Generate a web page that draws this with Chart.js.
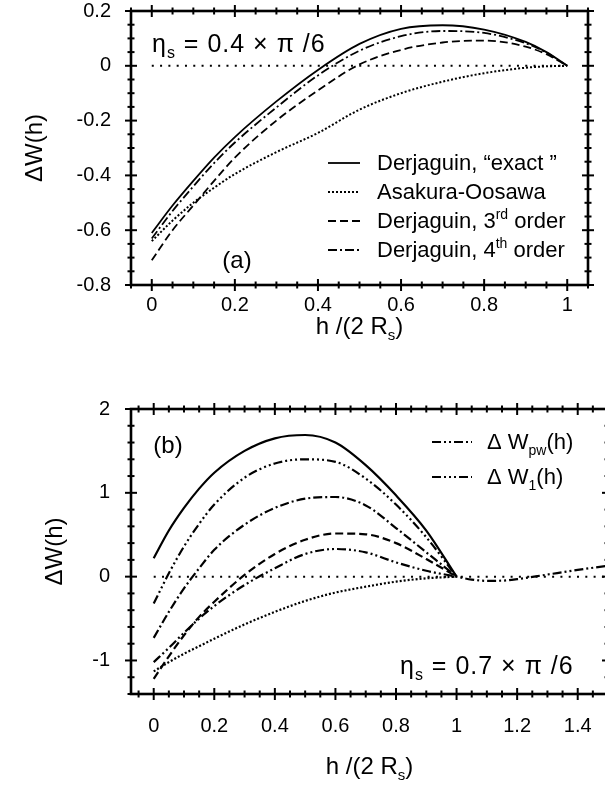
<!DOCTYPE html>
<html>
<head>
<meta charset="utf-8">
<script src="https://cdn.jsdelivr.net/npm/chart.js@4.4.1/dist/chart.umd.min.js"></script>
<style>
  html, body { margin: 0; padding: 0; background: #fff; overflow: hidden; width: 605px; height: 789px; }
  canvas { position: absolute; left: 0; }
  #chartA { top: 0; }
  #chartB { top: 345px; }
</style>
</head>
<body>
<canvas id="chartA" width="605" height="345"></canvas>
<canvas id="chartB" width="640" height="444"></canvas>
<script>
const FONT = '"Liberation Sans", Arial, Helvetica, sans-serif';

// panel (a), eta_s = 0.4 x pi/6
const hA      = [0, 0.05, 0.1, 0.15, 0.2, 0.3, 0.4, 0.5, 0.6, 0.7, 0.8, 0.9, 0.95, 1];
const exactA  = [-0.61, -0.51, -0.42, -0.335, -0.26, -0.13, -0.015, 0.08, 0.135, 0.148, 0.132, 0.087, 0.05, 0];
const aoA     = [-0.64, -0.565, -0.5, -0.445, -0.395, -0.315, -0.245, -0.16, -0.1, -0.058, -0.027, -0.007, -0.002, 0];
const thirdA  = [-0.71, -0.6, -0.51, -0.42, -0.335, -0.2, -0.09, 0.005, 0.058, 0.085, 0.092, 0.07, 0.042, 0];
const fourthA = [-0.63, -0.53, -0.44, -0.355, -0.28, -0.152, -0.035, 0.055, 0.108, 0.127, 0.12, 0.082, 0.048, 0];
const zeroHA  = [0, 1];
const zeroA   = [0, 0];
const xTicksA = [0, 0.2, 0.4, 0.6, 0.8, 1];
const yTicksA = [-0.8, -0.6, -0.4, -0.2, 0, 0.2];

// panel (b), eta_s = 0.7 x pi/6
const hB      = [0, 0.05, 0.1, 0.15, 0.2, 0.3, 0.4, 0.5, 0.6, 0.7, 0.8, 0.9, 1];
const exactB  = [0.22, 0.55, 0.82, 1.05, 1.24, 1.5, 1.65, 1.69, 1.6, 1.33, 0.97, 0.55, 0];
const w1B     = [-0.32, 0.04, 0.36, 0.63, 0.86, 1.18, 1.35, 1.4, 1.37, 1.17, 0.86, 0.47, 0];
const fourthB = [-0.73, -0.42, -0.14, 0.1, 0.32, 0.62, 0.82, 0.93, 0.95, 0.85, 0.58, 0.29, 0];
const thirdB  = [-1.22, -0.95, -0.7, -0.48, -0.3, 0.02, 0.27, 0.44, 0.515, 0.505, 0.4, 0.21, 0];
const aoB     = [-1.13, -1.02, -0.92, -0.83, -0.74, -0.57, -0.42, -0.29, -0.19, -0.12, -0.06, -0.02, 0];
const hPw     = [0, 0.05, 0.1, 0.15, 0.2, 0.3, 0.4, 0.5, 0.6, 0.7, 0.8, 0.9, 1, 1.05, 1.1, 1.15, 1.2, 1.3, 1.4, 1.5, 1.6];
const pwB     = [-1.02, -0.85, -0.67, -0.5, -0.35, -0.1, 0.1, 0.27, 0.33, 0.29, 0.17, 0.07, 0, -0.035, -0.05, -0.048, -0.03, 0.025, 0.08, 0.13, 0.17];
const zeroHB  = [0, 1.6];
const zeroB   = [0, 0];
const xTicksB = [0, 0.2, 0.4, 0.6, 0.8, 1, 1.2, 1.4];
const yTicksB = [-1, 0, 1, 2];

const pts = (xs, ys) => xs.map((x, i) => ({ x, y: ys[i] }));

function line(label, xs, ys, dash, w, straight) {
  return {
    label, data: pts(xs, ys), borderColor: '#000', borderWidth: w, borderDash: dash,
    borderCapStyle: 'butt', pointRadius: 0, fill: false,
    tension: straight ? 0 : 0.4, cubicInterpolationMode: straight ? 'default' : 'monotone'
  };
}

const DOT = [2, 2], DASH = [8, 4], DASHDOT = [9, 3, 2, 3],
      DASH2DOT = [9, 3, 2, 3, 2, 3], DASH3DOT = [9, 3, 2, 3, 2, 3, 2, 3], ZERO = [2, 6.3];

// sub/superscript text
function rich(ctx, parts, x, y, size, align, spacing) {
  ctx.letterSpacing = spacing || '0px';
  const seg = parts.map(p => {
    const s = (p.sub || p.sup) ? Math.round(size * 0.62) : size;
    ctx.font = s + 'px ' + FONT;
    return { ...p, s, w: ctx.measureText(p.t).width };
  });
  const total = seg.reduce((a, b) => a + b.w, 0);
  let cx = align === 'center' ? x - total / 2 : x;
  ctx.textAlign = 'left';
  ctx.textBaseline = 'alphabetic';
  seg.forEach(p => {
    ctx.font = p.s + 'px ' + FONT;
    const dy = p.sub ? size * 0.25 : p.sup ? -size * 0.42 : 0;
    ctx.fillText(p.t, cx, y + dy);
    cx += p.w;
  });
  ctx.letterSpacing = '0px';
}

function frameTicks(xStep, xMajEvery, yStep, yMajEvery) {
  return {
    id: 'frameTicks',
    afterDatasetsDraw(chart) {
      const { ctx, chartArea: a, scales: { x, y } } = chart;
      ctx.save();
      ctx.strokeStyle = '#000';
      ctx.setLineDash([]);
      ctx.lineWidth = 2.6;
      ctx.strokeRect(a.left, a.top, a.right - a.left, a.bottom - a.top);
      ctx.lineWidth = 2;
      const seg = (x1, y1, x2, y2) => { ctx.beginPath(); ctx.moveTo(x1, y1); ctx.lineTo(x2, y2); ctx.stroke(); };
      for (let i = Math.ceil(x.min / xStep - 1e-6); i * xStep <= x.max + 1e-6; i++) {
        const px = x.getPixelForValue(i * xStep);
        const L = i % xMajEvery === 0 ? 6 : 3.5;
        seg(px, a.bottom - L, px, a.bottom + L);
        seg(px, a.top - L, px, a.top + L);
      }
      for (let i = Math.ceil(y.min / yStep - 1e-6); i * yStep <= y.max + 1e-6; i++) {
        const py = y.getPixelForValue(i * yStep);
        const L = i % yMajEvery === 0 ? 6 : 3.5;
        seg(a.left - L, py, a.left + L, py);
        seg(a.right - L, py, a.right + L, py);
      }
      ctx.restore();
    }
  };
}

function panelText(items, legend) {
  return {
    id: 'panelText',
    afterDraw(chart) {
      const { ctx, chartArea: a } = chart;
      ctx.save();
      ctx.fillStyle = '#000';
      items.forEach(it => rich(ctx, it.parts, it.x === 'mid' ? (a.left + a.right) / 2 : it.x, it.y, it.size, it.align, it.spacing));
      legend.rows.forEach((r, i) => {
        const ds = chart.data.datasets[r.ds];
        const y = legend.y0 + i * legend.dy;
        ctx.strokeStyle = '#000';
        ctx.lineWidth = ds.borderWidth;
        ctx.setLineDash(ds.borderDash);
        ctx.beginPath();
        ctx.moveTo(legend.x1, y);
        ctx.lineTo(legend.x2, y);
        ctx.stroke();
        rich(ctx, r.parts, legend.tx, y + 7, legend.size);
      });
      ctx.restore();
    }
  };
}

const fmt = v => String(Math.round(v * 10) / 10);
const noPad = s => { s.paddingTop = 0; s.paddingBottom = 0; s.paddingLeft = 0; s.paddingRight = 0; };

function makeChart(id, datasets, c) {
  return new Chart(document.getElementById(id), {
    type: 'line',
    data: { datasets },
    options: {
      responsive: false,
      animation: false,
      events: [],
      layout: { padding: c.pad },
      plugins: { legend: { display: false }, tooltip: { enabled: false } },
      scales: {
        x: {
          type: 'linear', min: c.xMin, max: c.xMax,
          grid: { display: false }, border: { display: false },
          afterBuildTicks: s => { s.ticks = c.xTicks.map(v => ({ value: v })); },
          afterFit: s => { s.height = c.xAxisH; noPad(s); },
          ticks: { padding: c.xPad, color: '#000', font: { family: FONT, size: 20 }, maxRotation: 0, autoSkip: false, callback: fmt }
        },
        y: {
          type: 'linear', min: c.yMin, max: c.yMax,
          grid: { display: false }, border: { display: false },
          afterBuildTicks: s => { s.ticks = c.yTicks.map(v => ({ value: v })); },
          afterFit: s => { s.width = 131; noPad(s); },
          ticks: { padding: c.yPad, color: '#000', font: { family: FONT, size: 20 }, autoSkip: false, callback: fmt },
          title: { display: true, text: 'ΔW(h)', color: '#000', font: { family: FONT, size: 24 }, padding: { top: c.yTitleX, bottom: 0 } }
        }
      }
    },
    plugins: [frameTicks(c.xStep, c.xMaj, c.yStep, c.yMaj), panelText(c.items, c.legend)]
  });
}

const xTitle = [{ t: 'h /(2 R' }, { t: 's', sub: true }, { t: ')' }];

makeChart('chartA', [
  line('Derjaguin, “exact ”', hA, exactA, [], 1.8),
  line('Asakura-Oosawa', hA, aoA, DOT, 2),
  line('Derjaguin, 3rd order', hA, thirdA, DASH, 1.8),
  line('Derjaguin, 4th order', hA, fourthA, DASHDOT, 1.8),
  line('zero', zeroHA, zeroA, ZERO, 2, true)
], {
  pad: { top: 11, right: 17, bottom: 0, left: 0 },
  xMin: -0.05, xMax: 1.05, yMin: -0.8, yMax: 0.2,
  xTicks: xTicksA, yTicks: yTicksA, xAxisH: 60, xPad: 0, yPad: 12, yTitleX: 21,
  xStep: 0.05, xMaj: 4, yStep: 0.05, yMaj: 4,
  items: [
    { parts: [{ t: 'η' }, { t: 's', sub: true }, { t: ' = 0.4 × π /6' }], x: 152, y: 52, size: 25, spacing: '1px' },
    { parts: [{ t: '(a)' }], x: 237, y: 268, size: 24, align: 'center' },
    { parts: xTitle, x: 'mid', y: 334, size: 24, align: 'center' }
  ],
  legend: {
    x1: 328, x2: 360, tx: 377, y0: 163, dy: 29, size: 22,
    rows: [
      { ds: 0, parts: [{ t: 'Derjaguin, “exact ”' }] },
      { ds: 1, parts: [{ t: 'Asakura-Oosawa' }] },
      { ds: 2, parts: [{ t: 'Derjaguin, 3' }, { t: 'rd', sup: true }, { t: ' order' }] },
      { ds: 3, parts: [{ t: 'Derjaguin, 4' }, { t: 'th', sup: true }, { t: ' order' }] }
    ]
  }
});

makeChart('chartB', [
  line('Derjaguin, “exact ”', hB, exactB, [], 2.2),
  line('ΔW1(h)', hB, w1B, DASH3DOT, 2.2),
  line('Derjaguin, 4th order', hB, fourthB, DASHDOT, 2.2),
  line('Derjaguin, 3rd order', hB, thirdB, DASH, 2.2),
  line('ΔWpw(h)', hPw, pwB, DASH2DOT, 2.2),
  line('Asakura-Oosawa', hB, aoB, DOT, 2.2),
  line('zero', zeroHB, zeroB, ZERO, 2, true)
], {
  pad: { top: 64, right: 32, bottom: 0, left: 0 },
  xMin: -0.075, xMax: 1.5, yMin: -1.4, yMax: 2,
  xTicks: xTicksB, yTicks: yTicksB, xAxisH: 95, xPad: 12, yPad: 13, yTitleX: 41,
  xStep: 0.05, xMaj: 4, yStep: 0.2, yMaj: 5,
  items: [
    { parts: [{ t: '(b)' }], x: 168, y: 108, size: 24, align: 'center' },
    { parts: [{ t: 'η' }, { t: 's', sub: true }, { t: ' = 0.7 × π /6' }], x: 400, y: 329, size: 25, spacing: '1px' },
    { parts: xTitle, x: 'mid', y: 429, size: 24, align: 'center' }
  ],
  legend: {
    x1: 432, x2: 472, tx: 487, y0: 97, dy: 35, size: 22,
    rows: [
      { ds: 4, parts: [{ t: 'Δ W' }, { t: 'pw', sub: true }, { t: '(h)' }] },
      { ds: 1, parts: [{ t: 'Δ W' }, { t: '1', sub: true }, { t: '(h)' }] }
    ]
  }
});
</script>
</body>
</html>
